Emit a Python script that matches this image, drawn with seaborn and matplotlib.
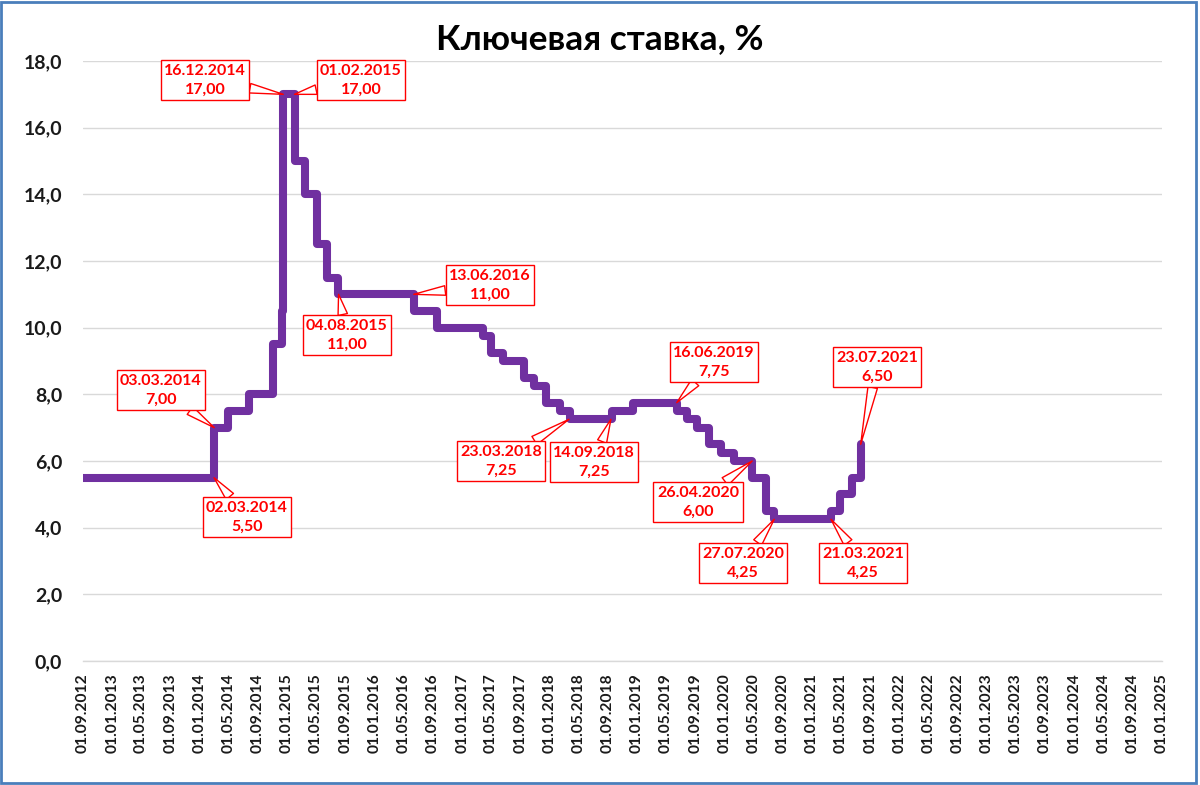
import numpy as np
import pandas as pd
import matplotlib
matplotlib.use('Agg')
import matplotlib.pyplot as plt
import matplotlib.dates as mdates
import matplotlib.ticker as ticker
import matplotlib.patches as mpatches
import seaborn as sns

# key rate changes (date of change, new rate)
rate_dates = ['2012-09-01', '2014-03-03', '2014-04-28', '2014-07-28', '2014-11-05',
              '2014-12-12', '2014-12-16', '2015-02-02', '2015-03-16', '2015-05-05',
              '2015-06-16', '2015-08-03', '2016-06-14', '2016-09-19', '2017-03-27',
              '2017-05-02', '2017-06-19', '2017-09-18', '2017-10-30', '2017-12-18',
              '2018-02-12', '2018-03-26', '2018-09-17', '2018-12-17', '2019-06-17',
              '2019-07-29', '2019-09-09', '2019-10-28', '2019-12-16', '2020-02-10',
              '2020-04-27', '2020-06-22', '2020-07-27', '2021-03-22', '2021-04-26',
              '2021-06-15', '2021-07-23']
rate_values = [5.50, 7.00, 7.50, 8.00, 9.50,
               10.50, 17.00, 15.00, 14.00, 12.50,
               11.50, 11.00, 10.50, 10.00, 9.75,
               9.25, 9.00, 8.50, 8.25, 7.75,
               7.50, 7.25, 7.50, 7.75, 7.50,
               7.25, 7.00, 6.50, 6.25, 6.00,
               5.50, 4.50, 4.25, 4.50, 5.00,
               5.50, 6.50]

# callouts
callout_dates = ['2014-12-16', '2015-02-01', '2015-08-04', '2016-06-13', '2014-03-03',
                 '2014-03-02', '2018-03-23', '2018-09-14', '2019-06-16', '2020-04-26',
                 '2020-07-27', '2021-03-21', '2021-07-23']
callout_values = [17.00, 17.00, 11.00, 11.00, 7.00,
                  5.50, 7.25, 7.25, 7.75, 6.00,
                  4.25, 4.25, 6.50]
# box centres in image pixels (x, y from top)
callout_boxes = [(205, 80), (361, 80), (347, 335), (490, 285), (161, 390),
                 (247, 517), (501, 461), (594, 462), (714, 362), (698, 502),
                 (743, 563), (863, 563), (877, 367)]

W, H = 1200, 785
df = pd.DataFrame({'date': pd.to_datetime(rate_dates), 'rate': rate_values})

sns.set_style('white')
plt.rcParams['font.family'] = ['Lato', 'Open Sans', 'DejaVu Sans']

fig = plt.figure(figsize=(W / 100, H / 100), dpi=100)
ax = fig.add_axes([83 / W, 1 - 661 / H, (1162 - 83) / W, (661 - 61) / H])

sns.lineplot(data=df, x='date', y='rate', ax=ax, color='#7030A0', linewidth=5.8,
             drawstyle='steps-post', solid_capstyle='round', solid_joinstyle='round',
             zorder=3)

ax.set_xlim(pd.Timestamp('2012-09-01'), pd.Timestamp('2025-01-01'))
ax.set_ylim(0, 18)
ax.xaxis.set_major_locator(mdates.MonthLocator(bymonth=[1, 5, 9]))
ax.xaxis.set_major_formatter(mdates.DateFormatter('%d.%m.%Y'))
ax.yaxis.set_major_locator(ticker.MultipleLocator(2))
ax.yaxis.set_major_formatter(ticker.FuncFormatter(lambda v, _: f'{v:.1f}'.replace('.', ',')))

ax.set_xlabel('')
ax.set_ylabel('')
ax.grid(axis='y', color='#D9D9D9', linewidth=1)
ax.set_axisbelow(True)
for s in ['top', 'right', 'left']:
    ax.spines[s].set_visible(False)
ax.spines['bottom'].set_color('#D9D9D9')
ax.spines['bottom'].set_linewidth(1)

ax.tick_params(axis='x', direction='out', length=4, width=1, color='#D9D9D9',
               pad=5, labelsize=11.2, labelrotation=90, labelcolor='#1a1a1a')
ax.tick_params(axis='y', length=0, pad=15, labelsize=14, labelcolor='#1a1a1a')
for lab in ax.get_xticklabels() + ax.get_yticklabels():
    lab.set_fontweight('bold')

for d, v, (bx, by) in zip(callout_dates, callout_values, callout_boxes):
    dt = pd.Timestamp(d)
    label = dt.strftime('%d.%m.%Y') + '\n' + f'{v:.2f}'.replace('.', ',')
    ax.annotate(label, xy=(dt, v), xytext=(bx, H - by), textcoords='figure pixels',
                ha='center', va='center', fontsize=11.5, fontweight='bold',
                color='#FF0000', linespacing=1.45, zorder=5,
                bbox=dict(boxstyle='square,pad=0.22', fc='white', ec='#FF0000', lw=1),
                arrowprops=dict(arrowstyle='wedge,tail_width=0.6,shrink_factor=0.5',
                                fc='white', ec='#FF0000', lw=1, shrinkA=0, shrinkB=0))

fig.text(0.5, 1 - 49 / H, 'Ключевая ставка, %', ha='center', va='baseline',
         fontsize=25.5, fontweight='bold', color='black')

fig.patches.append(mpatches.Rectangle((0.001, 0.002), 0.996, 0.996, transform=fig.transFigure,
                                      fill=False, ec='#4A7EBB', lw=2))

fig.savefig('out.png', dpi=100)
